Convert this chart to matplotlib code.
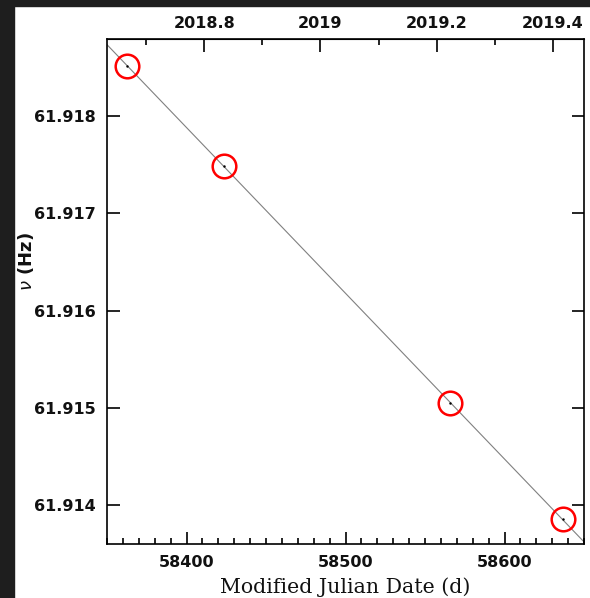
import matplotlib
matplotlib.use("Agg")
import matplotlib.pyplot as plt
from matplotlib.patches import Rectangle
from matplotlib.ticker import MultipleLocator, FixedLocator, FuncFormatter
import numpy as np

# measured spin frequency at each epoch
mjd = [58362.7, 58423.5, 58565.8, 58636.7]
freq = [61.918516, 61.917491, 61.915046, 61.913856]

xlim = (58350, 58650)
ylim = (61.913606, 61.918794)
year_ticks = [2018.8, 2019.0, 2019.2, 2019.4]


def mjd_to_year(m):
    return 2000.0 + (np.asarray(m) - 51544.5) / 365.25


def year_to_mjd(y):
    return (np.asarray(y) - 2000.0) * 365.25 + 51544.5


fig = plt.figure(figsize=(5.90, 5.98), dpi=100)
# dark frame around the screenshot
fig.patches.append(Rectangle((0, 0), 14 / 590, 1, transform=fig.transFigure,
                             color="#1e1e1e", zorder=-10))
fig.patches.append(Rectangle((0, 1 - 6 / 598), 1, 6 / 598, transform=fig.transFigure,
                             color="#1e1e1e", zorder=-10))

ax = fig.add_axes([107 / 590, 1 - 543.5 / 598, 477 / 590, 504.5 / 598])

# linear fit across the whole range
p = np.polyfit(mjd, freq, 1)
xx = np.array(xlim)
ax.plot(xx, np.polyval(p, xx), color="#808080", lw=0.8, zorder=1)

ax.plot(mjd, freq, "o", ms=17, mfc="none", mec="red", mew=1.8, zorder=3)
ax.plot(mjd, freq, ".", ms=1.5, color="black", zorder=4)

ax.set_xlim(*xlim)
ax.set_ylim(*ylim)

ax.xaxis.set_major_locator(MultipleLocator(100))
ax.xaxis.set_minor_locator(MultipleLocator(10))
ax.yaxis.set_major_locator(MultipleLocator(0.001))
ax.yaxis.set_major_formatter(FuncFormatter(lambda v, _: f"{v:.3f}"))

ax.tick_params(which="both", direction="in", top=False, right=True, width=1.2,
               labelsize=11.5, pad=8, labelcolor="#111111")
ax.tick_params(which="major", length=9)
ax.tick_params(which="minor", length=4.5)
for s in ax.spines.values():
    s.set_linewidth(1.2)
for lab in ax.get_xticklabels() + ax.get_yticklabels():
    lab.set_fontweight("bold")

top = ax.secondary_xaxis("top", functions=(mjd_to_year, year_to_mjd))
top.xaxis.set_major_locator(FixedLocator(year_ticks))
top.xaxis.set_minor_locator(MultipleLocator(0.1))
top.xaxis.set_major_formatter(FuncFormatter(lambda v, _: f"{v:g}"))
top.tick_params(which="both", direction="in", width=1.2, labelsize=11.5, pad=6,
                labelcolor="#111111")
top.tick_params(which="major", length=9)
top.tick_params(which="minor", length=4.5)
for lab in top.get_xticklabels():
    lab.set_fontweight("bold")

ax.set_xlabel("Modified Julian Date (d)", fontsize=14.8, family="DejaVu Serif",
              color="#111111", va="center")
ax.xaxis.set_label_coords(0.5, -0.0862)
ax.set_ylabel(r"$\nu$ (Hz)", fontsize=13, fontweight="bold", color="#111111",
              va="center", ha="center")
ax.yaxis.set_label_coords(-0.170, 0.558)

fig.savefig("out.png", dpi=100)
